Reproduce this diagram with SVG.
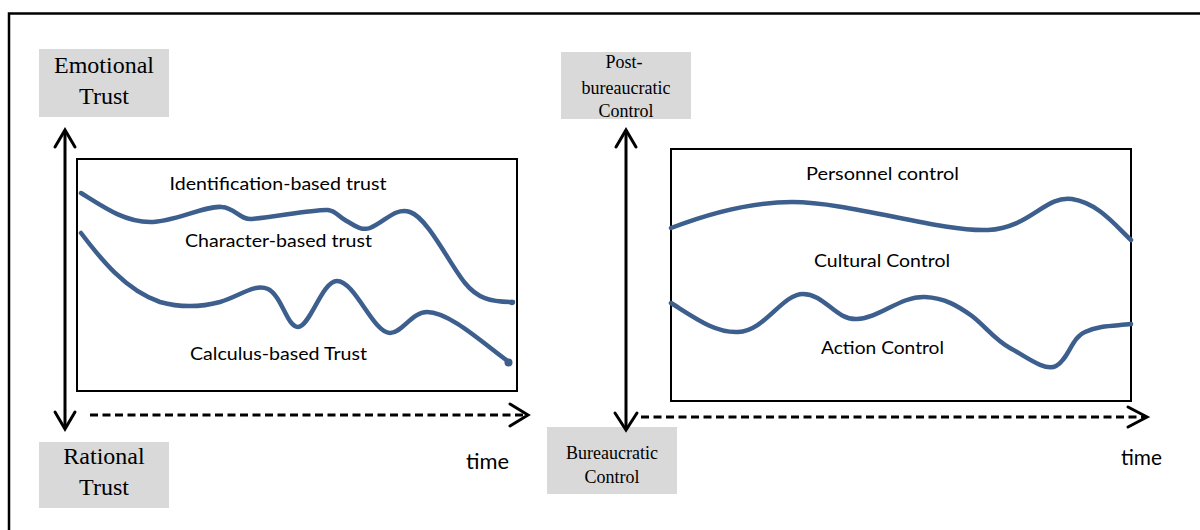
<svg xmlns="http://www.w3.org/2000/svg" width="1200" height="530" viewBox="0 0 1200 530">
<style>
.frame{fill:none;stroke:#000;stroke-width:2.5}
.lbl{fill:#d9d9d9}
.tnr{font-family:"Liberation Serif","Times New Roman",serif;fill:#000;text-anchor:middle}
.big{font-size:24px}
.sm{font-size:18px}
.plot{fill:#fff;stroke:#000;stroke-width:2}
.sans{font-family:Lato,"Liberation Sans",Arial,sans-serif;font-size:18px;fill:#000}
.time{font-size:22px}
.curve{fill:none;stroke:#3d5f8e;stroke-width:4.5;stroke-linecap:round;stroke-linejoin:round}
.axis{fill:none;stroke:#000;stroke-width:3}
.dash{fill:none;stroke:#000;stroke-width:3;stroke-dasharray:8 4.5}
.head{fill:none;stroke:#000;stroke-width:3;stroke-linecap:round;stroke-linejoin:miter}
</style>
<rect width="1200" height="530" fill="#fff"/>
<path class="frame" d="M9,530 V13.5 H1200"/>

<g id="emotional-trust">
<rect class="lbl" x="39" y="49" width="130" height="68"/>
<text class="tnr big" x="104" y="73">Emotional</text>
<text class="tnr big" x="104" y="104">Trust</text>
</g>
<g id="rational-trust">
<rect class="lbl" x="39" y="442" width="130" height="66"/>
<text class="tnr big" x="104" y="464">Rational</text>
<text class="tnr big" x="104" y="495">Trust</text>
</g>
<g id="post-bureaucratic-control">
<rect class="lbl" x="561" y="52" width="130" height="67"/>
<text class="tnr sm" x="624" y="68">Post-</text>
<text class="tnr sm" x="626" y="94">bureaucratic</text>
<text class="tnr sm" x="626" y="117">Control</text>
</g>
<g id="bureaucratic-control">
<rect class="lbl" x="547" y="427" width="130" height="67"/>
<text class="tnr sm" x="612" y="459">Bureaucratic</text>
<text class="tnr sm" x="612" y="483">Control</text>
</g>

<g id="trust-plot">
<rect class="plot" x="77" y="159" width="440" height="232"/>
<text class="sans" x="169.5" y="190" textLength="217" lengthAdjust="spacingAndGlyphs">Identification-based trust</text>
<text class="sans" x="185" y="247" textLength="187" lengthAdjust="spacingAndGlyphs">Character-based trust</text>
<text class="sans" x="190" y="360" textLength="177" lengthAdjust="spacingAndGlyphs">Calculus-based Trust</text>
</g>
<g id="control-plot">
<rect class="plot" x="671" y="149" width="460" height="252"/>
<text class="sans" x="806" y="180" textLength="153" lengthAdjust="spacingAndGlyphs">Personnel control</text>
<text class="sans" x="814" y="267" textLength="136" lengthAdjust="spacingAndGlyphs">Cultural Control</text>
<text class="sans" x="821" y="354" textLength="123" lengthAdjust="spacingAndGlyphs">Action Control</text>
</g>
<g id="time-left">
<text class="sans time" x="466" y="469" textLength="43" lengthAdjust="spacingAndGlyphs">time</text>
</g>
<g id="time-right">
<text class="sans time" x="1121" y="465" textLength="41" lengthAdjust="spacingAndGlyphs">time</text>
</g>

<g id="curves">
<path class="curve" d="M81,193 C105,208 125,222 150,222 C175,222 205,205 222,207 C235,208 240,220 252,219 C275,217 315,209 328,210 C336,211 338,216 345,220 C355,226 362,231 370,228 C385,222 395,207 410,212 C428,218 450,265 465,283 C477,298 490,302 513,302"/>
<circle cx="512" cy="302.5" r="2.8" fill="#3d5f8e"/>
<path class="curve" d="M81,233 C100,258 125,290 160,302 C185,309 205,306 220,302 C240,296 255,283 268,289 C282,296 287,327 298,327 C310,327 322,281 337,281 C355,281 373,333 390,333 C402,333 412,312 427,312 C450,312 485,345 509,362"/>
<circle cx="508.5" cy="362.5" r="4" fill="#3d5f8e"/>
<path class="curve" d="M671,228 C710,213 750,202 792,202 C850,202 940,232 988,230 C1030,228 1045,195 1072,199 C1098,203 1115,225 1131,240"/>
<path class="curve" d="M671,303 C695,318 715,333 738,332 C765,331 782,294 803,294 C825,294 835,320 857,319 C880,318 900,296 925,297 C945,298 958,306 972,316 C985,326 995,340 1010,348 C1025,356 1045,372 1056,366 C1068,360 1072,337 1085,332 C1100,325 1115,326 1131,324"/>
</g>

<g id="connectors">
<line class="axis" x1="65" y1="132" x2="65" y2="427"/>
<path class="head" d="M55,147 L65,130 L75,147"/>
<path class="head" d="M55,412 L65,429 L75,412"/>
<line class="dash" x1="90" y1="415" x2="525" y2="415"/>
<path class="head" d="M510,404 L528,415 L510,426"/>
<line class="axis" x1="626" y1="132" x2="626" y2="428"/>
<path class="head" d="M616,147 L626,130 L636,147"/>
<path class="head" d="M615,413 L626,430 L637,413"/>
<line class="dash" x1="641" y1="417" x2="1144" y2="417"/>
<path class="head" d="M1128,407 L1147,417 L1128,427"/>
</g>
</svg>
